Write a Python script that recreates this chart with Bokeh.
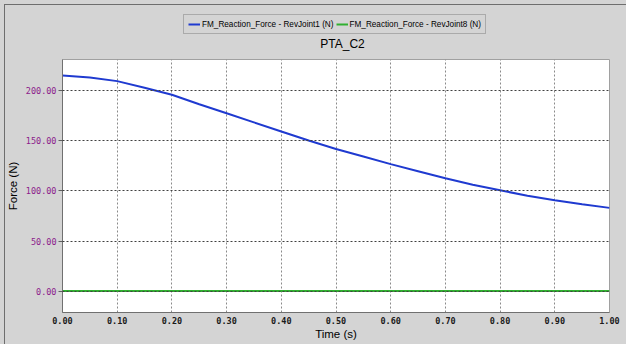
from bokeh.plotting import figure
from bokeh.layouts import column
from bokeh.models import (Range1d, FixedTicker, NumeralTickFormatter, Legend,
                          LegendItem, Label)
from bokeh.embed import file_html
from bokeh.resources import INLINE

# ---- data ----
time_s = [0.00, 0.05, 0.10, 0.15, 0.20, 0.25, 0.30, 0.35, 0.40, 0.45, 0.50,
          0.55, 0.60, 0.65, 0.70, 0.75, 0.80, 0.85, 0.90, 0.95, 1.00]
force_revjoint1 = [214.5, 212.5, 209.0, 202.5, 195.5, 186.0, 177.0, 168.0,
                   159.0, 150.0, 141.5, 134.0, 126.5, 119.5, 112.5, 106.0,
                   100.5, 95.0, 90.5, 86.5, 83.0]
force_revjoint8 = [0.4, 0.4, 0.4, 0.4, 0.4, 0.4, 0.4, 0.4, 0.4, 0.4, 0.4,
                   0.4, 0.4, 0.4, 0.4, 0.4, 0.4, 0.4, 0.4, 0.4, 0.4]
x_ticks = [0.0, 0.1, 0.2, 0.3, 0.4, 0.5, 0.6, 0.7, 0.8, 0.9, 1.0]
y_ticks = [0, 50, 100, 150, 200]
series_names = ["FM_Reaction_Force - RevJoint1 (N)",
                "FM_Reaction_Force - RevJoint8 (N)"]
chart_title = "PTA_C2"
x_label = "Time (s)"
y_label = "Force (N)"

BG = "#d4d4d4"
EDGE = "#6e6e6e"
BLUE = "#1f3ad0"
GREEN = "#30b030"

# ---------- header strip: legend + title ----------
head = figure(width=626, height=58, output_backend="svg", toolbar_location=None,
              x_range=Range1d(0, 1), y_range=Range1d(1000, 1100),
              min_border=0, x_axis_type=None, y_axis_type=None)
head.grid.visible = False
head.outline_line_color = None
head.background_fill_alpha = 0
head.border_fill_alpha = 0
h1 = head.line(time_s, force_revjoint1, line_color=BLUE, line_width=2)
h8 = head.line(time_s, force_revjoint8, line_color=GREEN, line_width=2)

legend = Legend(items=[LegendItem(label=series_names[0], renderers=[h1]),
                       LegendItem(label=series_names[1], renderers=[h8])],
                orientation="horizontal", location=(121, 24),
                label_text_font="Liberation Sans", label_text_font_size="8.2px",
                label_text_color="#000000",
                glyph_width=12, glyph_height=10, label_height=10,
                label_standoff=2, spacing=2, padding=4, margin=0,
                border_line_color="#808080", background_fill_alpha=0)
head.add_layout(legend)
head.add_layout(Label(x=280, y=15, x_units="screen", y_units="screen",
                      text=chart_title, text_align="center",
                      text_baseline="middle", text_font="Liberation Sans",
                      text_font_size="12px", text_color="#000000"))

# ---------- main chart ----------
p = figure(width=626, height=286, output_backend="svg", toolbar_location=None,
           x_range=Range1d(0, 1), y_range=Range1d(-21, 230.5),
           min_border_left=62, min_border_right=17, min_border_top=1,
           min_border_bottom=32)
p.background_fill_color = "white"
p.border_fill_alpha = 0
p.outline_line_color = "#a0a0a0"
p.outline_line_width = 1

p.xaxis.ticker = FixedTicker(ticks=x_ticks)
p.yaxis.ticker = FixedTicker(ticks=y_ticks)
p.xaxis.formatter = NumeralTickFormatter(format="0.00")
p.yaxis.formatter = NumeralTickFormatter(format="0.00")
for ax in (p.xaxis, p.yaxis):
    ax.axis_line_color = "#707070"
    ax.minor_tick_line_color = None
    ax.major_label_text_font = "DejaVu Sans Mono"
    ax.major_label_text_font_size = "8.5px"
    ax.axis_label_text_font = "Liberation Sans"
    ax.axis_label_text_font_style = "normal"
    ax.axis_label_text_color = "#000000"
p.xaxis.major_tick_line_color = None
p.xaxis.major_tick_out = 0
p.xaxis.major_tick_in = 0
p.xaxis.major_label_standoff = 4
p.xaxis.major_label_text_color = "#1a1a1a"
p.xaxis.major_label_text_font_style = "bold"
p.xaxis.axis_label = x_label
p.xaxis.axis_label_text_font_size = "11.5px"
p.xaxis.axis_label_standoff = 1
p.yaxis.major_tick_line_color = "#606060"
p.yaxis.major_tick_out = 4
p.yaxis.major_tick_in = 0
p.yaxis.major_label_standoff = 2
p.yaxis.major_label_text_color = "#8b1a8b"
p.yaxis.axis_label = y_label
p.yaxis.axis_label_text_font_size = "11.5px"
p.yaxis.axis_label_standoff = 4

p.xgrid.grid_line_color = "#8a8a8a"
p.xgrid.grid_line_dash = "2 2"
p.ygrid.grid_line_color = "#404040"
p.ygrid.grid_line_dash = "2 2"
p.ygrid.level = "annotation"

p.line(time_s, force_revjoint1, line_color=BLUE, line_width=2)
p.line(time_s, force_revjoint8, line_color=GREEN, line_width=2)

page = column(head, p, spacing=0)
page.styles = {
    "background": (f"linear-gradient({EDGE},{EDGE}) 4px 4px / 1px 100% no-repeat, "
                   f"linear-gradient({EDGE},{EDGE}) 4px 4px / 100% 1px no-repeat, "
                   f"{BG}")
}

open("out.html", "w").write(file_html(page, INLINE))
